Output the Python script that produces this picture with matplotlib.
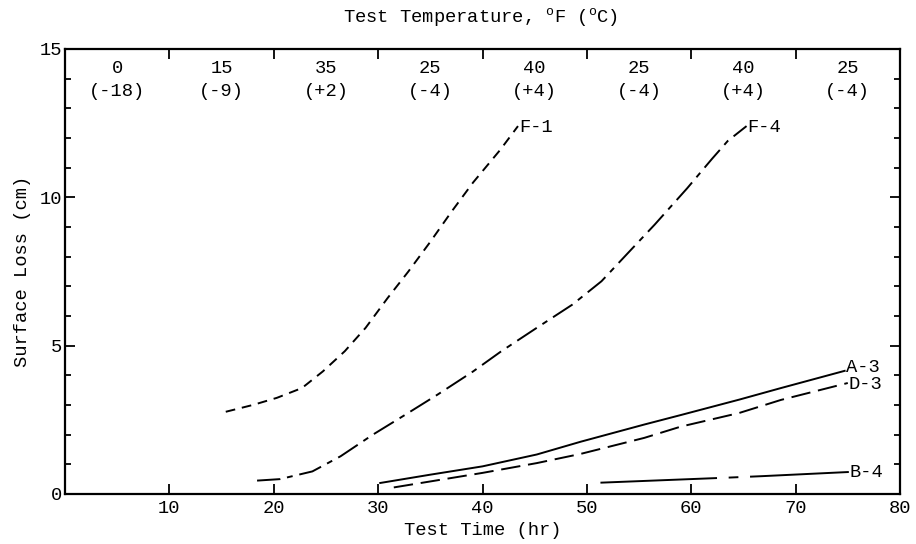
import numpy as np
import matplotlib
matplotlib.use('Agg')
import matplotlib.pyplot as plt

# Fuente tipo máquina de escribir
plt.rcParams['font.family'] = ['Liberation Mono', 'DejaVu Sans Mono']
plt.rcParams['mathtext.fontset'] = 'custom'
plt.rcParams['mathtext.rm'] = 'Liberation Mono'

# Datos (horas, cm)
f1_t = [15.4, 18.0, 20.3, 22.7, 24.7, 26.8, 28.8, 30.9, 32.9, 35.0, 37.0, 39.1, 41.7, 43.4]
f1_y = [2.77, 3.0, 3.24, 3.57, 4.13, 4.81, 5.6, 6.6, 7.5, 8.5, 9.5, 10.5, 11.6, 12.4]

f4_t = [18.4, 20.6, 23.7, 26.4, 29.5, 32.6, 35.7, 39.1, 41.8, 45.2, 48.6, 51.4, 53.8, 56.5, 59.6, 62.0, 63.5, 65.3]
f4_y = [0.45, 0.5, 0.76, 1.27, 2.0, 2.67, 3.35, 4.13, 4.81, 5.6, 6.38, 7.17, 8.07, 9.08, 10.3, 11.3, 11.9, 12.4]

a3_t = [30.2, 35.0, 40.0, 45.2, 49.4, 55.5, 59.0, 64.6, 68.6, 74.7]
a3_y = [0.37, 0.65, 0.93, 1.33, 1.76, 2.34, 2.66, 3.18, 3.57, 4.15]

d3_t = [31.5, 40.0, 45.2, 49.4, 55.5, 59.0, 64.6, 68.6, 75.0]
d3_y = [0.22, 0.71, 1.04, 1.35, 1.89, 2.27, 2.73, 3.17, 3.74]

b4_t = [51.3, 63.5, 66.8, 75.1]
b4_y = [0.38, 0.55, 0.6, 0.74]

# Temperaturas de ensayo por intervalo de 10 h
temp_f = ['0', '15', '35', '25', '40', '25', '40', '25']
temp_c = ['(-18)', '(-9)', '(+2)', '(-4)', '(+4)', '(-4)', '(+4)', '(-4)']

fig = plt.figure(figsize=(9.16, 5.44), dpi=100)
ax = fig.add_axes([0.071, 0.092, 0.9115, 0.818])

lw = 1.4
ax.plot(f1_t, f1_y, color='black', lw=lw, dashes=(5, 3.5))
ax.plot(f4_t, f4_y, color='black', lw=lw, dashes=(12, 3.5, 3, 3.5))
ax.plot(a3_t, a3_y, color='black', lw=lw)
ax.plot(d3_t, d3_y, color='black', lw=lw, dashes=(10, 4))
ax.plot(b4_t, b4_y, color='black', lw=lw, dashes=(60, 6, 5, 6))

fs = 13.5
ax.text(43.5, 12.35, 'F-1', fontsize=fs, va='center', ha='left')
ax.text(65.4, 12.35, 'F-4', fontsize=fs, va='center', ha='left')
ax.text(74.8, 4.25, 'A-3', fontsize=fs, va='center', ha='left')
ax.text(75.1, 3.7, 'D-3', fontsize=fs, va='center', ha='left')
ax.text(75.2, 0.72, 'B-4', fontsize=fs, va='center', ha='left')

for i in range(len(temp_f)):
    ax.text(i * 10 + 5, 14.35, temp_f[i], fontsize=fs, ha='center', va='center')
    ax.text(i * 10 + 5, 13.55, temp_c[i], fontsize=fs, ha='center', va='center')

ax.set_xlim(0, 80)
ax.set_ylim(0, 15)
ax.set_xticks([10, 20, 30, 40, 50, 60, 70, 80])
ax.set_xticklabels(['10', '20', '30', '40', '50', '60', '70', '80'])
ax.set_yticks([0, 5, 10, 15])
ax.set_yticks(np.arange(0, 16, 1), minor=True)

ax.tick_params(axis='both', which='major', direction='in', length=7.5, width=1.3,
               labelsize=fs, pad=3)
ax.tick_params(axis='y', which='major', right=True, pad=2)
ax.tick_params(axis='y', which='minor', direction='in', length=4.5, width=1.3, right=True)
ax.tick_params(axis='x', which='major', top=True, pad=4)

for s in ax.spines.values():
    s.set_linewidth(1.6)

ax.set_xlabel('Test Time (hr)', fontsize=fs, labelpad=4)
ax.set_ylabel('Surface Loss (cm)', fontsize=fs, labelpad=6)
fig.text(0.525, 0.968, r'Test Temperature, $^{\mathrm{o}}$F ($^{\mathrm{o}}$C)',
         fontsize=fs, ha='center', va='center')

fig.savefig('out.png', dpi=100)
